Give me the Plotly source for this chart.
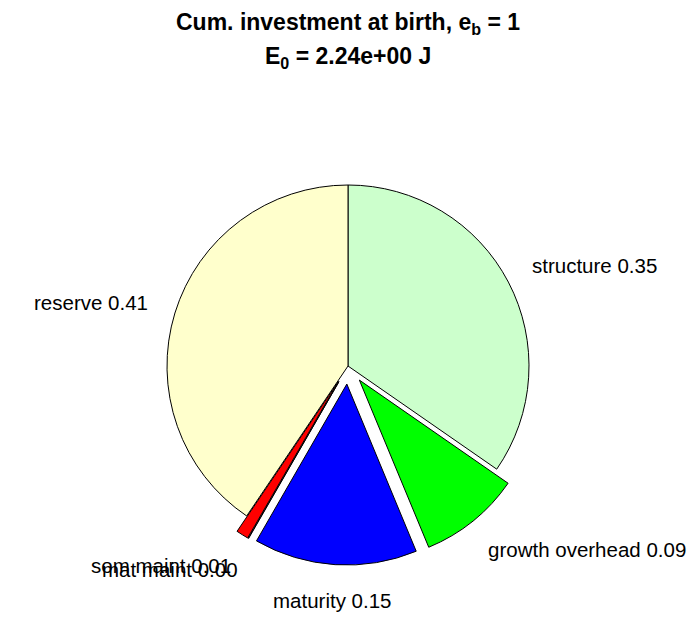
import math
import plotly.graph_objects as go

# ---- data ----
labels = ["structure", "growth overhead", "maturity", "mat maint", "som maint", "reserve"]
values = [0.347, 0.091, 0.146, 0.0004, 0.011, 0.406]
colors = ["#ccffcc", "#00ff00", "#0000ff", "#ff00ff", "#ff0000", "#ffffcc"]
explode = [0, 1, 1, 1, 1, 0]
title_line1 = "Cum. investment at birth, e<sub>b</sub> = 1"
title_line2 = "E<sub>0</sub> = 2.24e+00 J"

# ---- layout styles ----
# the page body adds an 8px margin, so the figure is 8px smaller than the window
OFF = 8
W, H = 696 - OFF, 618 - OFF
pull_frac = 0.1
cx_px, cy_px, R_px = 348 - OFF, 366 - OFF, 181
half = R_px * (1 + pull_frac)
dom_x = [(cx_px - half) / W, (cx_px + half) / W]
dom_y = [((H - cy_px) - half) / H, ((H - cy_px) + half) / H]
FONT = "Liberation Sans, Arial, Helvetica, sans-serif"

fig = go.Figure(go.Pie(
    labels=labels,
    values=values,
    sort=False,
    direction="clockwise",
    rotation=0,
    pull=[pull_frac * e for e in explode],
    marker=dict(colors=colors, line=dict(color="black", width=1)),
    textinfo="none",
    hoverinfo="label+value",
    showlegend=False,
    domain=dict(x=dom_x, y=dom_y),
))

# label annotations derived from slice angles (MATLAB-style placement:
# text at 1.2 R (+ explode offset) along the slice bisector)
total = sum(values)
annotations = []
cum = 0.0
k_lab = 1.2
for lab, v, e in zip(labels, values, explode):
    frac = v / total
    mid = (cum + frac / 2) * 2 * math.pi  # clockwise from 12 o'clock
    cum += frac
    ux, uy = math.sin(mid), -math.cos(mid)  # uy positive downward
    r = (k_lab + pull_frac * e) * R_px
    px = cx_px + r * ux
    py = cy_px + r * uy
    if ux > 0.2:
        xa, xs = "left", -10
    elif ux < -0.2:
        xa, xs = "right", 10
    else:
        xa, xs = "center", 0
    annotations.append(dict(
        x=px / W, y=1 - py / H, xref="paper", yref="paper",
        text=f"{lab} {v:.2f}", showarrow=False,
        xanchor=xa, yanchor="middle", xshift=xs,
        font=dict(family=FONT, size=20.5, color="black"),
    ))

annotations.append(dict(
    x=cx_px / W, y=1 - (7 - OFF) / H, xref="paper", yref="paper",
    text=f"<b>{title_line1}</b>", showarrow=False,
    xanchor="center", yanchor="top",
    font=dict(family=FONT, size=23, color="black"),
))
annotations.append(dict(
    x=cx_px / W, y=1 - (58 - OFF) / H, xref="paper", yref="paper",
    text=f"<b>{title_line2}</b>", showarrow=False,
    xanchor="center", yanchor="middle",
    font=dict(family=FONT, size=23, color="black"),
))

fig.update_layout(
    width=W, height=H,
    margin=dict(l=0, r=0, t=0, b=0),
    paper_bgcolor="white", plot_bgcolor="white",
    annotations=annotations,
)

fig.write_html("out.html")
